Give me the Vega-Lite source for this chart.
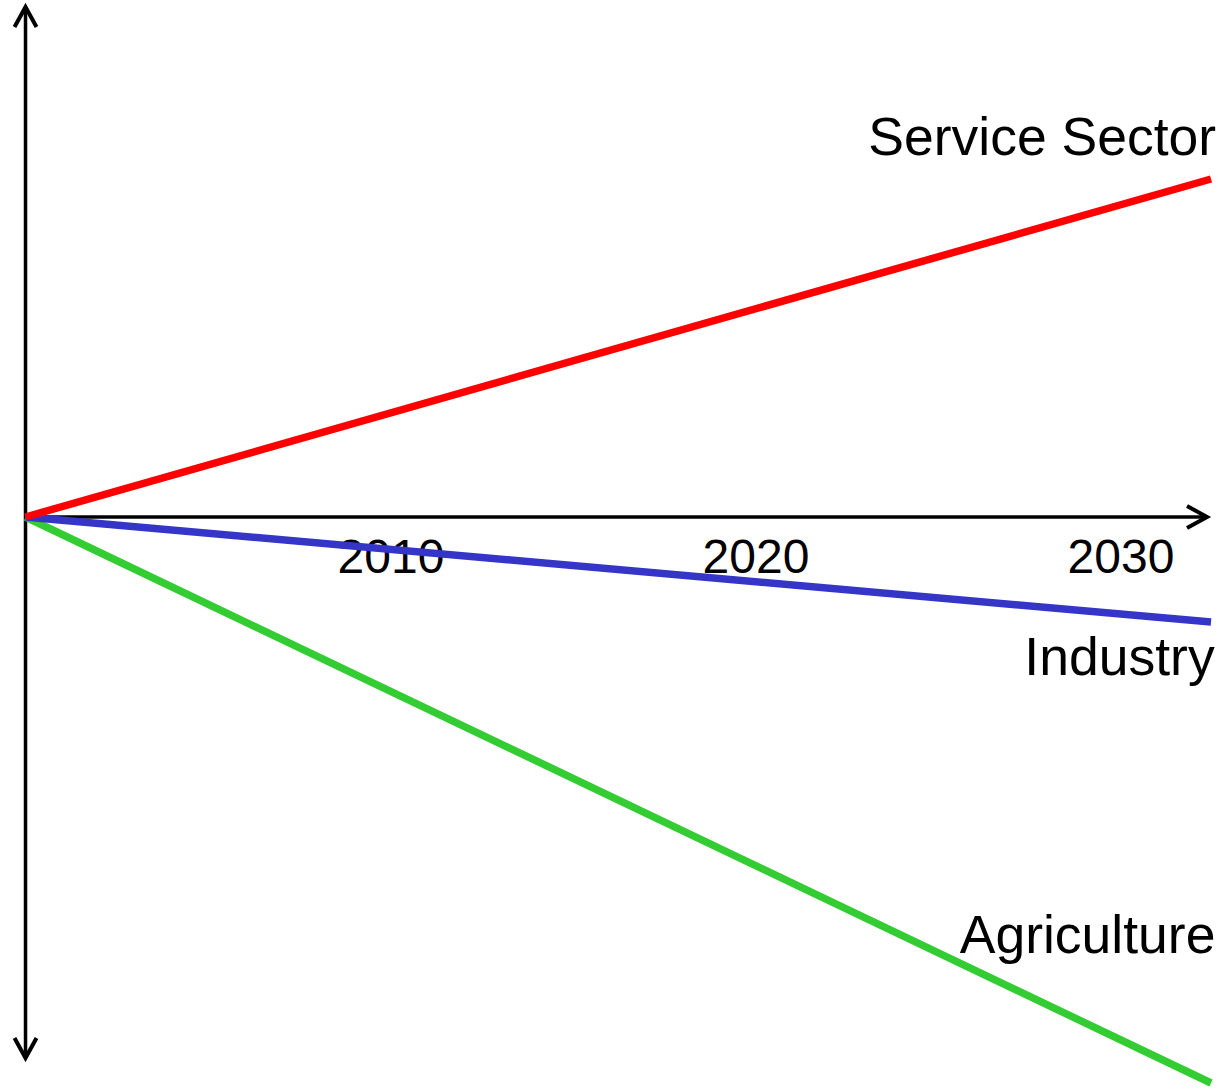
{
  "$schema": "https://vega.github.io/schema/vega-lite/v6.json",
  "width": 1231,
  "height": 1090,
  "autosize": {"type": "none"},
  "padding": 0,
  "background": "white",
  "config": {"view": {"stroke": null}},
  "datasets": {
    "series": [
      {"series": "Agriculture", "year": 2000, "value": 0},
      {"series": "Agriculture", "year": 2032.48, "value": -566},
      {"series": "Industry", "year": 2000, "value": 0},
      {"series": "Industry", "year": 2032.48, "value": -105},
      {"series": "Service Sector", "year": 2000, "value": 0},
      {"series": "Service Sector", "year": 2032.48, "value": 338}
    ],
    "axes": [
      {"axis": "vertical", "year": 2000, "value": 510, "year2": 2000, "value2": -541},
      {"axis": "horizontal", "year": 2000, "value": 0, "year2": 2032.37, "value2": 0}
    ],
    "arrows": [
      {"end": "top", "year": 2000, "value": 510},
      {"end": "bottom", "year": 2000, "value": -541},
      {"end": "right", "year": 2032.37, "value": 0}
    ],
    "labels": [
      {"label": "Service Sector", "year": 2032.62, "value": 362},
      {"label": "Industry", "year": 2032.58, "value": -158},
      {"label": "Agriculture", "year": 2032.6, "value": -436}
    ]
  },
  "encoding": {
    "x": {
      "field": "year",
      "type": "quantitative",
      "scale": {"domain": [1999.301, 2033.027], "nice": false, "zero": false},
      "axis": {
        "orient": "bottom",
        "offset": -573,
        "domain": false,
        "ticks": false,
        "grid": false,
        "values": [2010, 2020, 2030],
        "format": "d",
        "labelFont": "Liberation Sans",
        "labelFontSize": 48,
        "labelColor": "black",
        "labelPadding": 17,
        "title": null
      }
    },
    "y": {
      "field": "value",
      "type": "quantitative",
      "scale": {"domain": [-573, 517], "nice": false, "zero": false},
      "axis": null
    }
  },
  "layer": [
    {
      "data": {"name": "axes"},
      "mark": {"type": "rule", "color": "black", "strokeWidth": 3.5},
      "encoding": {
        "x2": {"field": "year2"},
        "y2": {"field": "value2"}
      }
    },
    {
      "data": {"name": "arrows"},
      "mark": {"type": "point", "filled": false, "stroke": "black", "strokeWidth": 4, "size": 1600, "opacity": 1},
      "encoding": {
        "shape": {
          "field": "end",
          "type": "nominal",
          "scale": {
            "domain": ["top", "bottom", "right"],
            "range": ["M-0.55,1L0,0L0.55,1", "M-0.55,-1L0,0L0.55,-1", "M-1,-0.55L0,0L-1,0.55"]
          },
          "legend": null
        }
      }
    },
    {
      "data": {"name": "series"},
      "mark": {"type": "line", "strokeWidth": 7.5, "strokeCap": "butt"},
      "encoding": {
        "color": {
          "field": "series",
          "type": "nominal",
          "scale": {
            "domain": ["Agriculture", "Industry", "Service Sector"],
            "range": ["#33cc33", "#3535c8", "#ff0000"]
          },
          "legend": null
        }
      }
    },
    {
      "data": {"name": "labels"},
      "mark": {"type": "text", "align": "right", "baseline": "alphabetic", "font": "Liberation Sans", "fontSize": 53.5, "color": "black"},
      "encoding": {
        "text": {"field": "label", "type": "nominal"}
      }
    }
  ]
}
